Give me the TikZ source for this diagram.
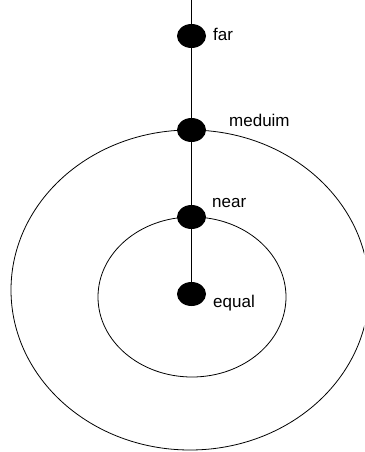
\documentclass[tikz,border=0pt]{standalone}
\usepackage{fontspec}
\setmainfont{Liberation Sans}
\usetikzlibrary{shapes.geometric}
\begin{document}
\begin{tikzpicture}[x=1pt,y=-1pt,
  dot/.style={ellipse, fill=black, minimum width=29pt, minimum height=24pt, inner sep=0pt},
  lbl/.style={anchor=mid west, inner sep=0pt, font=\fontsize{17}{20}\selectfont},
  ring/.style={draw=black, line width=0.8pt}]
\useasboundingbox (0,0) rectangle (364,452);
\clip (0,0) rectangle (364,452);
\draw[ring] (190,290) ellipse [x radius=179, y radius=160];
\draw[ring] (192,297) ellipse [x radius=94, y radius=80];
\coordinate (top) at (191.5,0);
\node[dot] (far) at (191.5,36) {};
\node[dot] (meduim) at (191.5,130) {};
\node[dot] (near) at (191.5,217) {};
\node[dot] (equal) at (191.5,294) {};
\draw[ring] (top) -- (far) -- (meduim) -- (near) -- (equal);
\node[lbl] (farlbl) at (213,38) {far};
\node[lbl] (meduimlbl) at (229,124) {meduim};
\node[lbl] (nearlbl) at (212,205) {near};
\node[lbl] (equallbl) at (213,305) {equal};
\end{tikzpicture}
\end{document}
